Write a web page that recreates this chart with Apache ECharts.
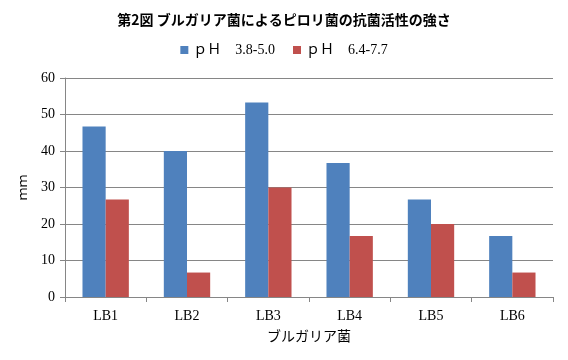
<!DOCTYPE html>
<html><head><meta charset="utf-8">
<script src="https://cdn.jsdelivr.net/npm/echarts@6/dist/echarts.min.js"></script>
<style>html,body{margin:0;padding:0;background:#fff}#c{width:568px;height:360px}</style>
</head><body><div id="c"></div>
<script>
const categories = ['LB1','LB2','LB3','LB4','LB5','LB6'];
const seriesNames = ['ｐＨ　3.8-5.0','ｐＨ　6.4-7.7'];
const acidValues = [46.7, 40, 53.3, 36.7, 26.7, 16.7];
const neutralValues = [26.7, 6.7, 30, 16.7, 20, 6.7];
const titleText = '第2図 ブルガリア菌によるピロリ菌の抗菌活性の強さ';
const xName = 'ブルガリア菌';
const yName = 'ｍｍ';
const serif = '"Liberation Serif","DejaVu Serif","Noto Sans CJK JP",serif';
const chart = echarts.init(document.getElementById('c'));
chart.setOption({
  animation:false,
  title:{text:titleText,left:'center',top:8,textStyle:{fontSize:14,fontWeight:'bold',color:'#000',fontFamily:'"Noto Sans CJK JP",sans-serif'}},
  legend:{top:38,left:'center',itemWidth:8,itemHeight:8,itemGap:18,icon:'rect',
    textStyle:{fontSize:14,color:'#000',fontFamily:serif},data:seriesNames},
  grid:{left:65,right:15,top:78,bottom:63},
  xAxis:{type:'category',data:categories,name:xName,nameLocation:'middle',nameGap:33,
    nameTextStyle:{fontSize:14,color:'#000',fontFamily:serif},
    axisLine:{lineStyle:{color:'#868686'}},axisTick:{show:true,length:5,lineStyle:{color:'#868686'}},
    axisLabel:{fontSize:14,color:'#000',fontFamily:serif,margin:12}},
  yAxis:{type:'value',min:0,max:60,interval:10,name:yName,nameLocation:'middle',nameGap:28,nameRotate:90,
    nameTextStyle:{fontSize:13,color:'#000',fontFamily:serif},
    axisLine:{show:true,lineStyle:{color:'#868686'}},axisTick:{show:true,length:5,lineStyle:{color:'#868686'}},
    splitLine:{lineStyle:{color:'#868686'}},
    axisLabel:{fontSize:14,color:'#000',fontFamily:serif,margin:10}},
  series:[
    {name:seriesNames[0],type:'bar',data:acidValues,itemStyle:{color:'#4F81BD'},barGap:'0%',barCategoryGap:'43%'},
    {name:seriesNames[1],type:'bar',data:neutralValues,itemStyle:{color:'#C0504D'},barGap:'0%',barCategoryGap:'43%'}
  ]
});
</script></body></html>
